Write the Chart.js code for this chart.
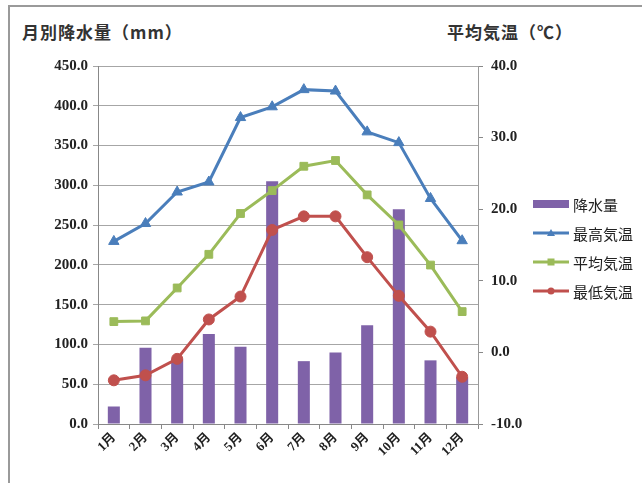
<!DOCTYPE html>
<html lang="ja">
<head>
    <meta charset="UTF-8">
    <title>月別降水量と気温</title>
    <script src="https://cdn.jsdelivr.net/npm/chart.js"></script>
    <style>
        html, body { margin: 0; padding: 0; background: #fff; }
        #wrap { position: relative; width: 642px; height: 483px; overflow: hidden; }
        #frame { position: absolute; left: 8px; top: 5px; width: 700px; height: 600px;
                 border-left: 2px solid #9a9a9a; border-top: 2px solid #9a9a9a; }
        .ttl { position: absolute; top: 19px; font-family: "Noto Sans CJK JP", sans-serif;
               font-weight: bold; font-size: 17px; letter-spacing: 1px; color: #333; white-space: nowrap; }
        canvas { position: absolute; left: 0; top: 0; }
    </style>
</head>
<body>
<div id="wrap">
    <div id="frame"></div>
    <div class="ttl" style="left:22px">月別降水量（mm）</div>
    <div class="ttl" style="left:447px">平均気温（℃）</div>
    <canvas id="grafica" width="642" height="483"></canvas>
</div>

<script>
    // 月ごとのデータ
    const meses = ['1月', '2月', '3月', '4月', '5月', '6月', '7月', '8月', '9月', '10月', '11月', '12月'];
    const kousuiryou = [22, 96, 82, 113, 97, 305, 79, 90, 124, 270, 80, 59];
    const saikou = [15.5, 18.0, 22.4, 23.8, 32.8, 34.3, 36.7, 36.5, 30.8, 29.3, 21.5, 15.6];
    const heikin = [4.3, 4.4, 9.0, 13.7, 19.4, 22.6, 26.0, 26.8, 22.0, 17.8, 12.2, 5.7];
    const saitei = [-3.9, -3.2, -0.9, 4.6, 7.8, 17.1, 19.0, 19.0, 13.3, 7.9, 2.9, -3.4];

    const serif = '"Liberation Serif", "Noto Sans CJK JP", serif';

    // 凡例を右側に自前で描く
    const leyenda = {
        id: 'leyenda',
        afterDraw(chart) {
            const c = chart.ctx;
            const x0 = 533, x1 = 569, filas = [204, 233, 262, 291];
            chart.data.datasets.forEach((ds, i) => {
                const y = filas[i];
                c.save();
                if (ds.type === 'bar') {
                    c.fillStyle = ds.backgroundColor;
                    c.fillRect(x0, y - 4, x1 - x0, 8);
                } else {
                    c.strokeStyle = ds.borderColor;
                    c.lineWidth = 3;
                    c.beginPath();
                    c.moveTo(x0, y);
                    c.lineTo(x1, y);
                    c.stroke();
                    c.fillStyle = ds.borderColor;
                    const m = (x0 + x1) / 2;
                    c.beginPath();
                    if (ds.pointStyle === 'triangle') {
                        c.moveTo(m, y - 4); c.lineTo(m + 4, y + 3); c.lineTo(m - 4, y + 3);
                    } else if (ds.pointStyle === 'rect') {
                        c.rect(m - 3.5, y - 3.5, 7, 7);
                    } else {
                        c.arc(m, y, 3.5, 0, Math.PI * 2);
                    }
                    c.fill();
                }
                c.fillStyle = '#222';
                c.font = '15px "Noto Sans CJK JP", sans-serif';
                c.textBaseline = 'middle';
                c.fillText(ds.label, x1 + 4, y + 1);
                c.restore();
            });
        }
    };

    const linea = (label, data, color, estilo, radio) => ({
        type: 'line',
        label: label,
        data: data,
        yAxisID: 'y2',
        borderColor: color,
        backgroundColor: color,
        borderWidth: 3,
        pointStyle: estilo,
        pointRadius: radio,
        pointBorderWidth: 1,
        tension: 0,
        order: 1
    });

    new Chart(document.getElementById('grafica'), {
        type: 'bar',
        data: {
            labels: meses,
            datasets: [
                {
                    type: 'bar',
                    label: '降水量',
                    data: kousuiryou,
                    yAxisID: 'y',
                    backgroundColor: '#7f62a8',
                    barPercentage: 0.38,
                    categoryPercentage: 1,
                    order: 2
                },
                linea('最高気温', saikou, '#4a7ebb', 'triangle', 6),
                linea('平均気温', heikin, '#9bbb59', 'rect', 5.5),
                linea('最低気温', saitei, '#c0504d', 'circle', 5.5)
            ]
        },
        options: {
            responsive: false,
            animation: false,
            layout: { padding: { top: 66, left: 0, right: 0, bottom: 0 } },
            plugins: {
                legend: { display: false },
                tooltip: { enabled: false }
            },
            scales: {
                x: {
                    afterFit: s => { s.height = 59; },
                    grid: { drawOnChartArea: false, offset: true, tickLength: 5, color: '#888' },
                    border: { color: '#888' },
                    ticks: {
                        autoSkip: false, minRotation: 45, maxRotation: 45, padding: 1,
                        color: '#222', font: { family: serif, size: 13, weight: 'bold' }
                    }
                },
                y: {
                    position: 'left',
                    min: 0, max: 450,
                    afterFit: s => { s.width = 98; },
                    grid: { color: '#a6a6a6', tickLength: 5 },
                    border: { color: '#888' },
                    ticks: {
                        stepSize: 50, padding: 5, color: '#222',
                        font: { family: serif, size: 15, weight: 'bold' },
                        callback: v => v.toFixed(1)
                    }
                },
                y2: {
                    position: 'right',
                    min: -10, max: 40,
                    afterFit: s => { s.width = 164; },
                    grid: { drawOnChartArea: false, tickLength: 5, color: '#888' },
                    border: { color: '#999' },
                    ticks: {
                        stepSize: 10, padding: 8, color: '#222',
                        font: { family: serif, size: 15, weight: 'bold' },
                        callback: v => v.toFixed(1)
                    }
                }
            }
        },
        plugins: [leyenda]
    });
</script>
</body>
</html>
